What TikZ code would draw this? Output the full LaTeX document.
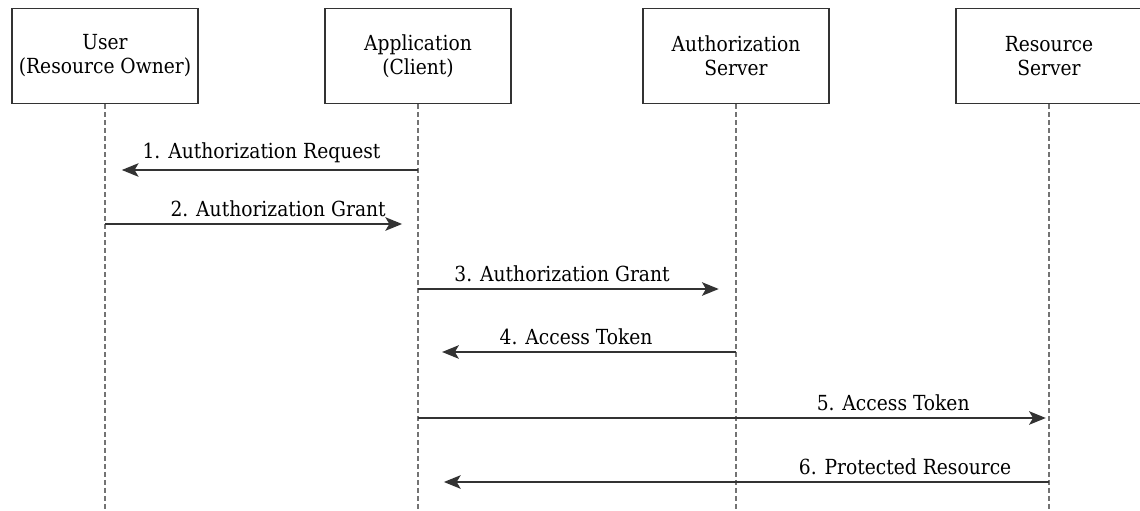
\documentclass[tikz,border=0pt]{standalone}
\usepackage{fontspec}
\setmainfont{DejaVu Serif Condensed}
\usetikzlibrary{arrows.meta,calc,positioning}

\begin{document}
\begin{tikzpicture}[>={Stealth[length=10.5pt,width=8.5pt,inset=2.5pt]}, x=0.022cm, y=-0.022cm,
  actor/.style={draw=black!80, line width=0.9pt, minimum width=4.1cm, minimum height=2.1cm, align=center, font=\fontsize{13}{15}\selectfont},
  lifeline/.style={draw=black!55, dashed, dash pattern=on 3pt off 2pt, line width=0.7pt},
  msg/.style={draw=black!80, line width=0.9pt, ->},
  msglabel/.style={above, font=\fontsize{13}{15}\selectfont, inner sep=4pt}]
  \useasboundingbox (0,0) rectangle (1140,511);
  \node[actor] (U) at (105,56) {User\\(Resource Owner)};
  \node[actor] (A) at (418,56) {Application\\(Client)};
  \node[actor] (S) at (736,56) {Authorization\\Server};
  \node[actor] (R) at (1049,56) {Resource\\Server};
  \coordinate (Uend) at (105,511);
  \coordinate (Aend) at (418,511);
  \coordinate (Send) at (736,511);
  \coordinate (Rend) at (1049,511);
  \draw[lifeline] (U.south) -- (Uend);
  \draw[lifeline] (A.south) -- (Aend);
  \draw[lifeline] (S.south) -- (Send);
  \draw[lifeline] (R.south) -- (Rend);
  \coordinate (u1) at (105,170);
  \coordinate (a1) at (418,170);
  \coordinate (u2) at (105,224);
  \coordinate (a2) at (418,224);
  \coordinate (a3) at (418,289);
  \coordinate (s3) at (736,289);
  \coordinate (a4) at (418,352);
  \coordinate (s4) at (736,352);
  \coordinate (a5) at (418,418);
  \coordinate (r5) at (1049,418);
  \coordinate (a6) at (418,482);
  \coordinate (r6) at (1049,482);
  \draw[msg, shorten >=0.37cm] (a1) -- node[msglabel, pos=0.50] {1. Authorization Request} (u1);
  \draw[msg, shorten >=0.35cm] (u2) -- node[msglabel, pos=0.553] {2. Authorization Grant} (a2);
  \draw[msg, shorten >=0.38cm] (a3) -- node[msglabel, pos=0.453] {3. Authorization Grant} (s3);
  \draw[msg, shorten >=0.53cm] (s4) -- node[msglabel, pos=0.503] {4. Access Token} (a4);
  \draw[msg, shorten >=0.07cm] (a5) -- node[msglabel, pos=0.753] {5. Access Token} (r5);
  \draw[msg, shorten >=0.57cm] (r6) -- node[msglabel, pos=0.228] {6. Protected Resource} (a6);
\end{tikzpicture}
\end{document}
